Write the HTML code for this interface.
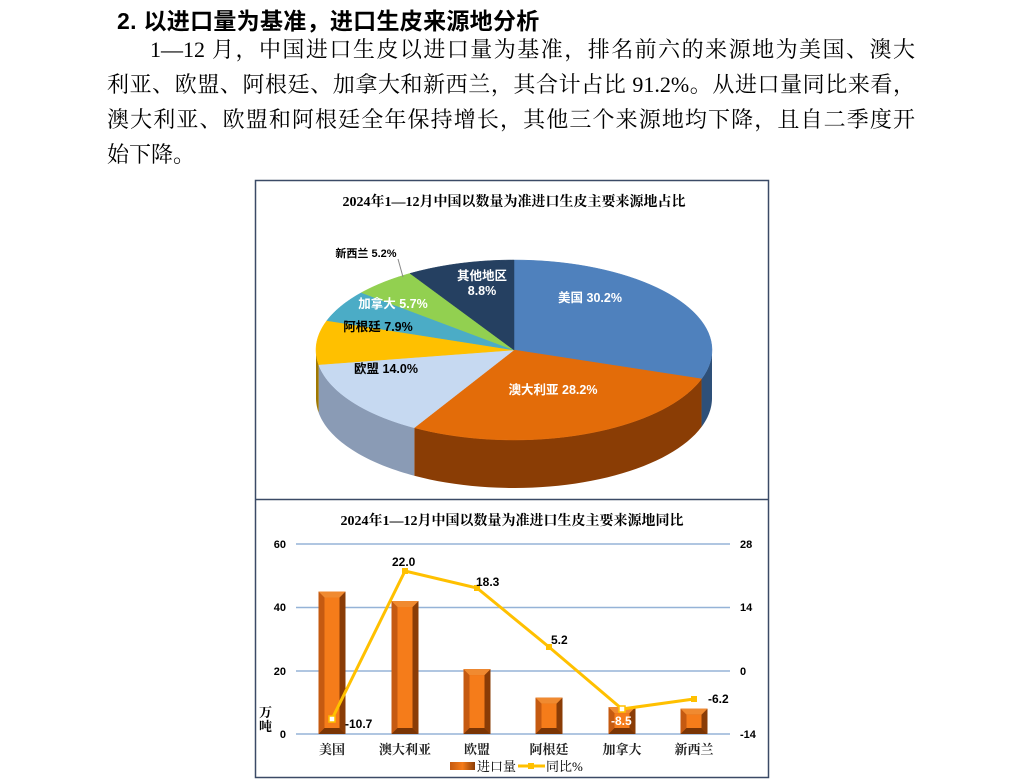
<!DOCTYPE html>
<html><head><meta charset="utf-8"><style>
body{margin:0;width:1018px;height:781px;background:#fff;position:relative;overflow:hidden;font-family:"Liberation Serif","Noto Serif CJK SC",serif}
.h{position:absolute;left:117px;top:2px;font:bold 23px "Liberation Sans","Noto Sans CJK SC",sans-serif;color:#000;letter-spacing:0.3px}
.l{position:absolute;font-size:22px;color:#000;text-align:justify;text-align-last:justify;white-space:nowrap;line-height:28px}
</style></head><body>
<div class="h">2. 以进口量为基准，进口生皮来源地分析</div>
<div class="l" style="left:150px;top:36px;width:765px">1—12 月，中国进口生皮以进口量为基准，排名前六的来源地为美国、澳大</div>
<div class="l" style="left:107px;top:71px;width:808px">利亚、欧盟、阿根廷、加拿大和新西兰，其合计占比 91.2%。从进口量同比来看，</div>
<div class="l" style="left:107px;top:106px;width:808px">澳大利亚、欧盟和阿根廷全年保持增长，其他三个来源地均下降，且自二季度开</div>
<div class="l" style="left:107px;top:141px;text-align-last:left">始下降。</div>
<svg id="s" width="1018" height="781" style="position:absolute;left:0;top:0" font-family="Liberation Sans,Noto Sans CJK SC,sans-serif">
<defs>
<linearGradient id="bar" x1="0" x2="1"><stop offset="0" stop-color="#c55a11"/><stop offset="0.5" stop-color="#f57c1a"/><stop offset="1" stop-color="#8a3c06"/></linearGradient>
</defs>
<rect x="255.5" y="180.5" width="513" height="597" fill="none" stroke="#3b4a66" stroke-width="1.5"/>
<line x1="255" y1="499.5" x2="769" y2="499.5" stroke="#3b4a66" stroke-width="1.5"/>
<text x="514" y="206" text-anchor="middle" font-size="14" font-weight="bold" font-family="Liberation Serif,Noto Serif CJK SC,serif">2024年1—12月中国以数量为准进口生皮主要来源地占比</text>
<g id="pie"></g>
<text x="512" y="525" text-anchor="middle" font-size="14" font-weight="bold" font-family="Liberation Serif,Noto Serif CJK SC,serif">2024年1—12月中国以数量为准进口生皮主要来源地同比</text>
<g stroke="#95b3d7" stroke-width="1.5">
<line x1="296" y1="544" x2="730" y2="544"/><line x1="296" y1="607.5" x2="730" y2="607.5"/><line x1="296" y1="671" x2="730" y2="671"/><line x1="296" y1="734" x2="730" y2="734"/>
</g>
<g font-size="11" font-weight="bold" text-anchor="end">
<text x="286" y="548">60</text><text x="286" y="611">40</text><text x="286" y="675">20</text><text x="286" y="738">0</text>
</g>
<g font-size="11" font-weight="bold">
<text x="740" y="548">28</text><text x="740" y="611">14</text><text x="740" y="675">0</text><text x="740" y="738">-14</text>
</g>
<text x="259" y="717" font-size="13" font-weight="bold" font-family="Liberation Serif,Noto Serif CJK SC,serif">万</text>
<text x="259" y="731" font-size="13" font-weight="bold" font-family="Liberation Serif,Noto Serif CJK SC,serif">吨</text>
<g id="bars"></g>
<g font-size="13" font-weight="bold" text-anchor="middle" font-family="Liberation Serif,Noto Serif CJK SC,serif" fill="#222">
<text x="332" y="754">美国</text><text x="405" y="754">澳大利亚</text><text x="477" y="754">欧盟</text><text x="549" y="754">阿根廷</text><text x="622" y="754">加拿大</text><text x="694" y="754">新西兰</text>
</g>
<polyline points="332,719 405,571 477,588 549,647 622,709 694,699" fill="none" stroke="#ffc000" stroke-width="3"/>
<g fill="#ffc000"><rect x="402" y="568" width="6" height="6"/><rect x="474" y="585" width="6" height="6"/><rect x="546" y="644" width="6" height="6"/><rect x="691" y="696" width="6" height="6"/></g>
<rect x="329" y="716" width="6" height="6" fill="#fff" stroke="#ffc000" stroke-width="1.5"/>
<rect x="619" y="706" width="6" height="6" fill="#fff" stroke="#ffc000" stroke-width="1.5"/>
<g font-size="12" font-weight="bold">
<text x="345" y="728">-10.7</text><text x="392" y="566">22.0</text><text x="476" y="586">18.3</text><text x="551" y="644">5.2</text><text x="611" y="725" fill="#fff">-8.5</text><text x="708" y="703">-6.2</text>
</g>
<rect x="450" y="762" width="25" height="8" fill="url(#bar)"/>
<text x="477" y="771" font-size="13" font-family="Liberation Serif,Noto Serif CJK SC,serif">进口量</text>
<line x1="518" y1="766" x2="545" y2="766" stroke="#ffc000" stroke-width="3"/>
<rect x="528" y="763" width="6" height="6" fill="#ffc000"/>
<text x="546" y="771" font-size="13" font-family="Liberation Serif,Noto Serif CJK SC,serif">同比%</text>
</svg>
<script>
var NS="http://www.w3.org/2000/svg";
function el(p,t,a){var e=document.createElementNS(NS,t);for(var k in a)e.setAttribute(k,a[k]);p.appendChild(e);return e;}
var cx=514,cy=350,rx=198,ry=90,d=48;
var sl=[[30.2,"#4f81bd","#2e5079"],[28.2,"#e36c09","#8a3d05"],[14,"#c6d9f1","#8a9bb5"],[7.9,"#ffc000","#a07800"],[5.7,"#4bacc6","#2d7080"],[5.2,"#92d050","#5a8a2a"],[8.8,"#254061","#15253a"]];
function pt(a,dy){var r=a*Math.PI/180;return [cx+rx*Math.sin(r),cy-ry*Math.cos(r)+(dy||0)];}
var g=document.getElementById("pie"),a=0,tops=[];
sl.forEach(function(s){var a0=a,a1=a+s[0]*3.6;a=a1;
 var s0=Math.max(a0,90),s1=Math.min(a1,270);
 if(s1>s0){var p=[],i,n=40;for(i=0;i<=n;i++){p.push(pt(s0+(s1-s0)*i/n));}
  for(i=n;i>=0;i--){p.push(pt(s0+(s1-s0)*i/n,d));}
  el(g,"polygon",{points:p.map(function(q){return q.join(",")}).join(" "),fill:s[2]});}
 var q=[[cx,cy]];for(var i=0;i<=40;i++)q.push(pt(a0+(a1-a0)*i/40));
 tops.push([q,s[1]]);});
tops.forEach(function(t){el(g,"polygon",{points:t[0].map(function(q){return q.join(",")}).join(" "),fill:t[1],stroke:t[1],"stroke-width":"0.5"});});
el(g,"line",{x1:403,y1:277,x2:398,y2:259,stroke:"#888"});
var lab=[[590,302,"美国 30.2%","#fff"],[553,394,"澳大利亚 28.2%","#fff"],[386,373,"欧盟 14.0%","#000"],[378,331,"阿根廷 7.9%","#000"],[393,308,"加拿大 5.7%","#fff"],[366,257,"新西兰 5.2%","#000"],[482,280,"其他地区","#fff"],[482,295,"8.8%","#fff"]];
lab.forEach(function(l){var t=el(g,"text",{x:l[0],y:l[1],"text-anchor":"middle","font-size":l[2]=="新西兰 5.2%"?"11":"12.5","font-weight":"bold",fill:l[3]});t.textContent=l[2];});
var b=document.getElementById("bars");
[[332,45],[405,42],[477,20.5],[549,11.5],[622,8.5],[694,8]].forEach(function(v){
 var y=734-v[1]*190/60,x=v[0]-13.5,w=27,h=734-y;
 el(b,"rect",{x:x,y:y,width:w,height:h,fill:"#c55a11"});
 el(b,"polygon",{points:(x+w)+","+y+" "+(x+w)+","+734+" "+(x+w-6)+","+728+" "+(x+w-6)+","+(y+6),fill:"#8a3c06"});
 el(b,"polygon",{points:x+","+734+" "+(x+w)+","+734+" "+(x+w-6)+","+728+" "+(x+6)+","+728,fill:"#7a3505"});
 el(b,"polygon",{points:x+","+y+" "+(x+w)+","+y+" "+(x+w-6)+","+(y+6)+" "+(x+6)+","+(y+6),fill:"#f08a30"});
 el(b,"rect",{x:x+6,y:y+6,width:w-12,height:Math.max(0,h-12),fill:"#f57c1a"});
});
</script>
</body></html>
